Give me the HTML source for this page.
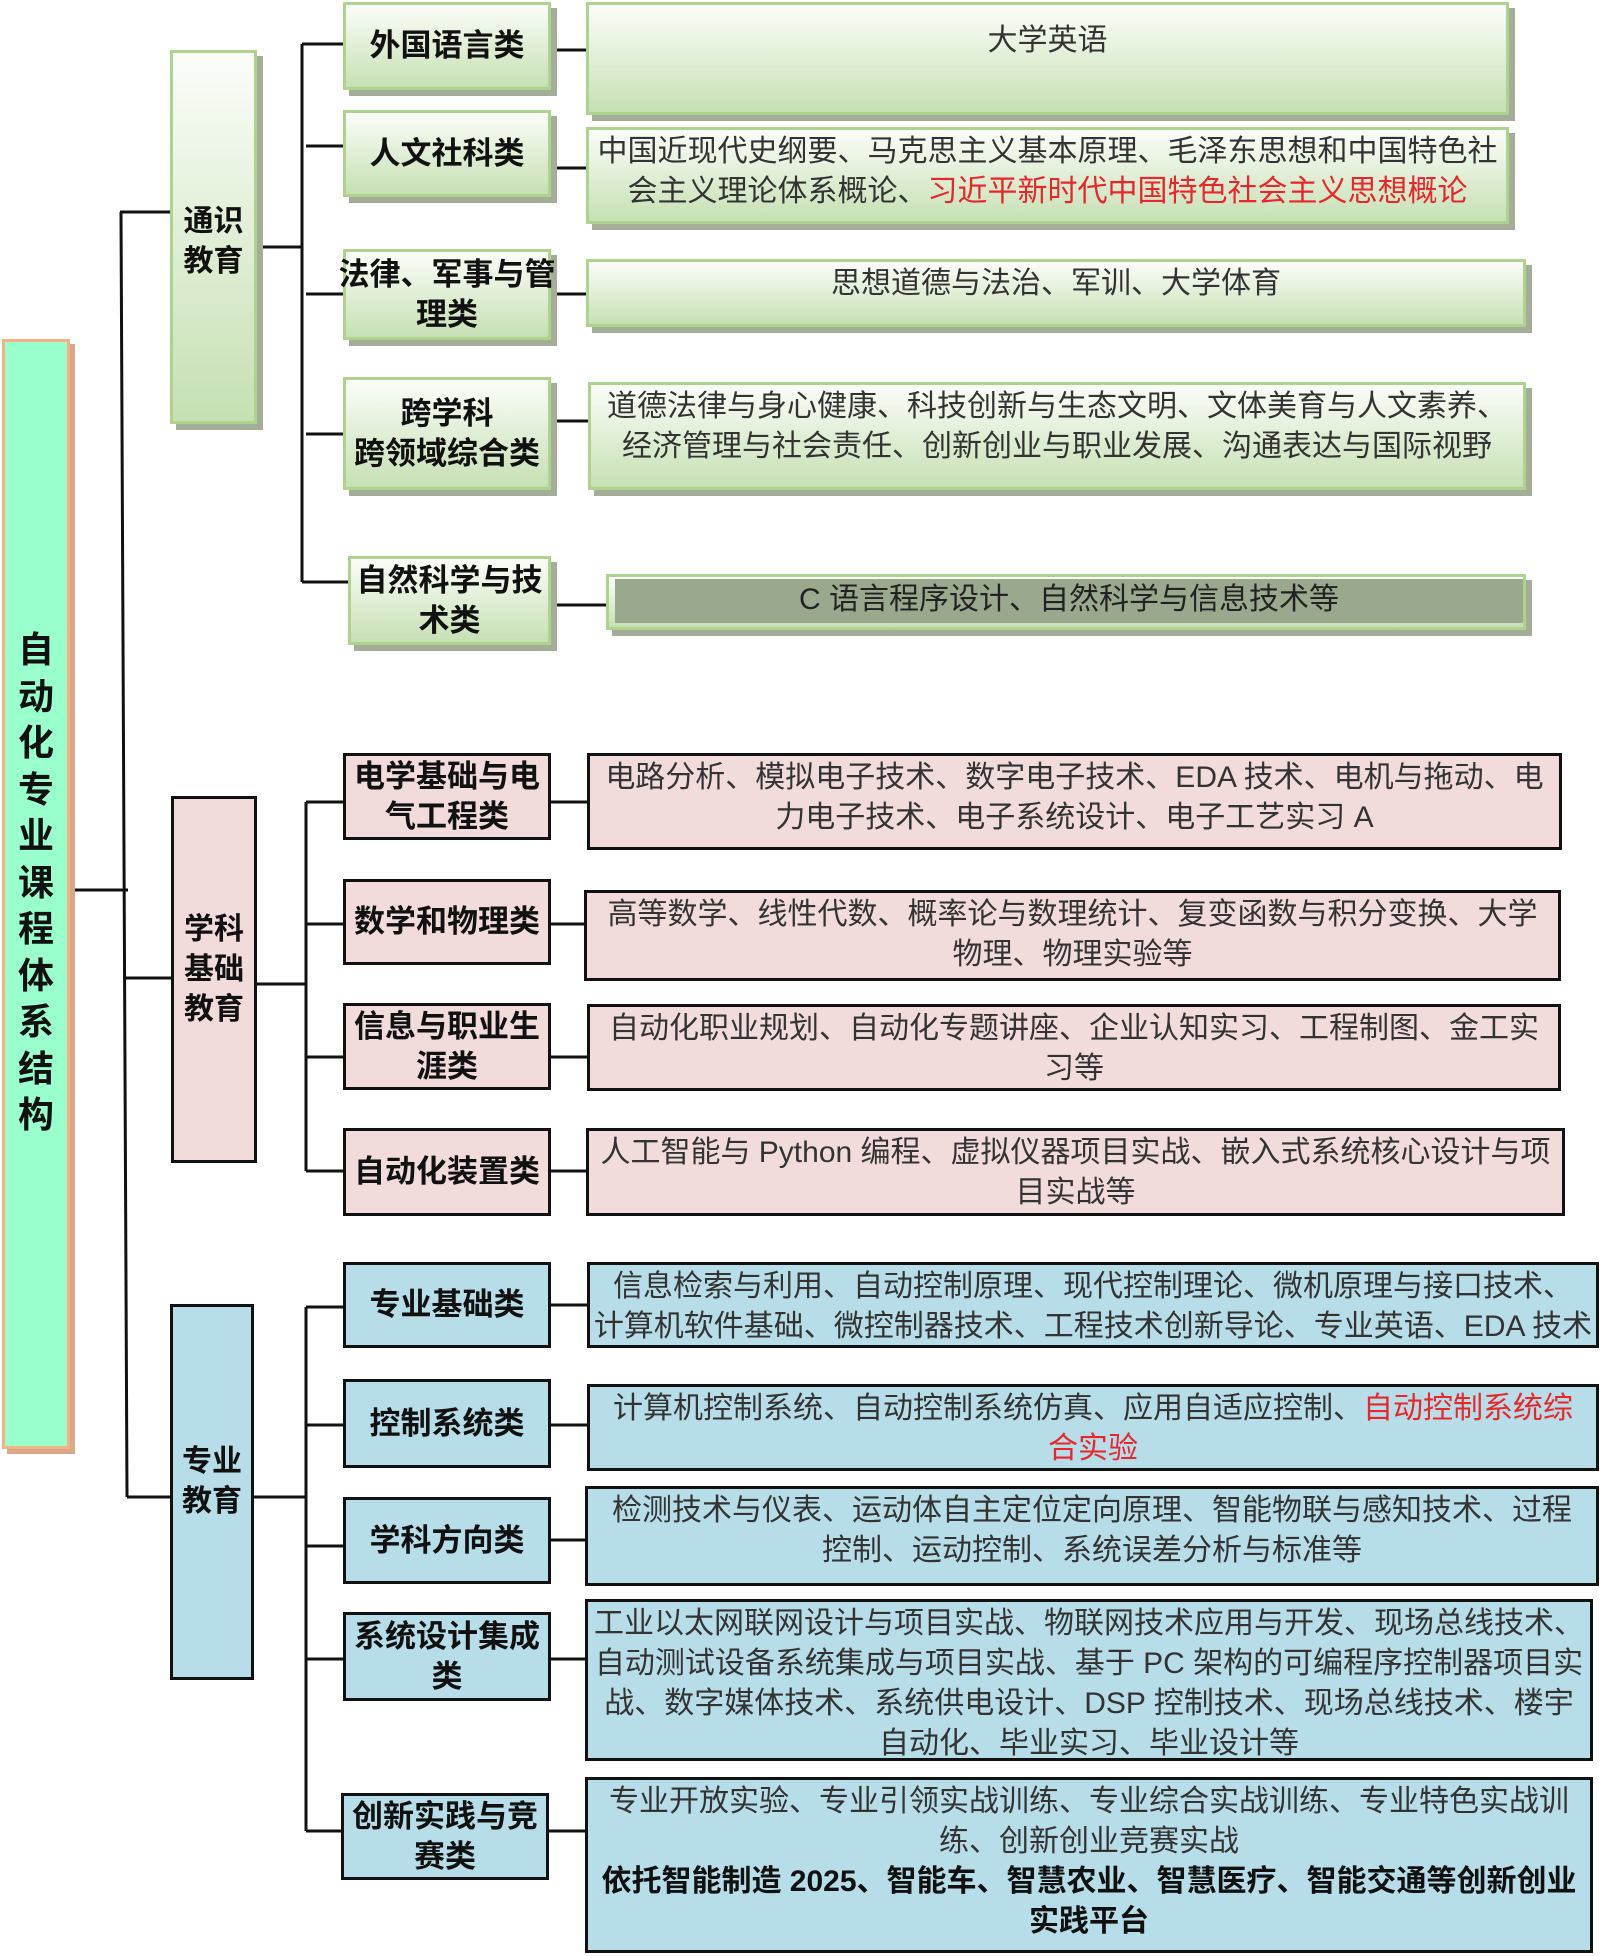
<!DOCTYPE html>
<html><head><meta charset="utf-8"><style>
body{margin:0;width:1600px;height:1956px;background:#fff;position:relative;overflow:hidden;font-family:"Liberation Sans","Noto Sans CJK SC",sans-serif}
.b{position:absolute;box-sizing:border-box;text-align:center}
.g{border:3px solid #aed38f;background:linear-gradient(#fbfdf9,#c6e0b3);box-shadow:6px 6px 0 #a3ad98}
.p{border:3px solid #111;background:#f2dcdb}
.u{border:3px solid #111;background:#b7dde8}
.c{font-weight:bold;font-size:31px;line-height:40px;color:#111;display:flex;align-items:center;justify-content:center;white-space:nowrap}
.d{font-size:30px;line-height:40px;color:#333;white-space:nowrap;padding-top:2px;display:flex;flex-direction:column;align-items:center}
.d>div{white-space:nowrap}
.r{color:#e8262b}
.m{font-weight:bold;font-size:30px;line-height:40px;color:#111;display:flex;align-items:center;justify-content:center}
</style></head><body>
<svg width="1600" height="1956" style="position:absolute;left:0;top:0" stroke="#111" stroke-width="3" fill="none">
<line x1="121" y1="212" x2="127" y2="1497"/>
<line x1="120" y1="212" x2="170" y2="212"/>
<line x1="70" y1="890" x2="128" y2="890"/>
<line x1="126" y1="978" x2="171" y2="978"/>
<line x1="127" y1="1497" x2="170" y2="1497"/>
<line x1="302" y1="44" x2="302" y2="582"/>
<line x1="257" y1="247" x2="302" y2="247"/>
<line x1="302" y1="44" x2="343" y2="44"/>
<line x1="306" y1="146" x2="343" y2="146"/>
<line x1="306" y1="294" x2="343" y2="294"/>
<line x1="306" y1="434" x2="343" y2="434"/>
<line x1="302" y1="582" x2="348" y2="582"/>
<line x1="551" y1="50" x2="586" y2="50"/>
<line x1="551" y1="168" x2="586" y2="168"/>
<line x1="551" y1="294" x2="586" y2="294"/>
<line x1="551" y1="421" x2="588" y2="421"/>
<line x1="551" y1="605" x2="606" y2="605"/>
<line x1="306" y1="802" x2="306" y2="1171"/>
<line x1="257" y1="984" x2="306" y2="984"/>
<line x1="306" y1="802" x2="343" y2="802"/>
<line x1="306" y1="924" x2="343" y2="924"/>
<line x1="306" y1="1057" x2="343" y2="1057"/>
<line x1="306" y1="1171" x2="343" y2="1171"/>
<line x1="551" y1="802" x2="587" y2="802"/>
<line x1="551" y1="924" x2="584" y2="924"/>
<line x1="551" y1="1057" x2="587" y2="1057"/>
<line x1="551" y1="1171" x2="586" y2="1171"/>
<line x1="306" y1="1307" x2="306" y2="1831"/>
<line x1="254" y1="1497" x2="306" y2="1497"/>
<line x1="306" y1="1307" x2="343" y2="1307"/>
<line x1="306" y1="1425" x2="343" y2="1425"/>
<line x1="306" y1="1546" x2="343" y2="1546"/>
<line x1="306" y1="1659" x2="343" y2="1659"/>
<line x1="306" y1="1831" x2="341" y2="1831"/>
<line x1="551" y1="1305" x2="587" y2="1305"/>
<line x1="551" y1="1425" x2="587" y2="1425"/>
<line x1="551" y1="1540" x2="585" y2="1540"/>
<line x1="551" y1="1659" x2="585" y2="1659"/>
<line x1="549" y1="1831" x2="585" y2="1831"/>
</svg>

<div class="b" style="left:2px;top:339px;width:68px;height:1110px;border:3px solid #f4b183;background:#99ffcc;box-shadow:5px 5px 0 #d9a88a;font-size:36px;line-height:46.5px;font-weight:bold;color:#111;padding-top:285px">自<br>动<br>化<br>专<br>业<br>课<br>程<br>体<br>系<br>结<br>构</div>

<div class="b g m" style="left:170px;top:50px;width:87px;height:374px;padding-top:10px">通识<br>教育</div>
<div class="b p m" style="left:171px;top:796px;width:86px;height:367px;padding-bottom:20px">学科<br>基础<br>教育</div>
<div class="b u m" style="left:170px;top:1304px;width:84px;height:376px;padding-bottom:20px">专业<br>教育</div>

<div class="b g c" style="left:343px;top:2px;width:208px;height:88px">外国语言类</div>
<div class="b g c" style="left:343px;top:110px;width:208px;height:87px">人文社科类</div>
<div class="b g c" style="left:343px;top:249px;width:208px;height:91px">法律、军事与管<br>理类</div>
<div class="b g c" style="left:343px;top:377px;width:208px;height:113px">跨学科<br>跨领域综合类</div>
<div class="b g c" style="left:348px;top:556px;width:203px;height:89px">自然科学与技<br>术类</div>

<div class="b g d" style="left:586px;top:2px;width:923px;height:113px;padding-top:16px"><div>大学英语</div></div>
<div class="b g d" style="left:586px;top:127px;width:923px;height:97px"><div>中国近现代史纲要、马克思主义基本原理、毛泽东思想和中国特色社</div><div>会主义理论体系概论、<span class="r">习近平新时代中国特色社会主义思想概论</span></div></div>
<div class="b g d" style="left:586px;top:259px;width:940px;height:68px"><div>思想道德与法治、军训、大学体育</div></div>
<div class="b g d" style="left:588px;top:382px;width:938px;height:108px"><div>道德法律与身心健康、科技创新与生态文明、文体美育与人文素养、</div><div>经济管理与社会责任、创新创业与职业发展、沟通表达与国际视野</div></div>
<div class="b g" style="left:606px;top:574px;width:920px;height:56px;padding:6px 0 0 6px"><div style="background:#9aa88e;height:44px;font-size:30px;line-height:42px;color:#222;margin-top:-4px">C 语言程序设计、自然科学与信息技术等</div></div>

<div class="b p c" style="left:343px;top:753px;width:208px;height:87px">电学基础与电<br>气工程类</div>
<div class="b p c" style="left:343px;top:879px;width:208px;height:86px">数学和物理类</div>
<div class="b p c" style="left:343px;top:1003px;width:208px;height:87px">信息与职业生<br>涯类</div>
<div class="b p c" style="left:343px;top:1128px;width:208px;height:88px">自动化装置类</div>

<div class="b p d" style="left:587px;top:753px;width:975px;height:97px"><div>电路分析、模拟电子技术、数字电子技术、EDA 技术、电机与拖动、电</div><div>力电子技术、电子系统设计、电子工艺实习 A</div></div>
<div class="b p d" style="left:584px;top:890px;width:977px;height:91px"><div>高等数学、线性代数、概率论与数理统计、复变函数与积分变换、大学</div><div>物理、物理实验等</div></div>
<div class="b p d" style="left:587px;top:1004px;width:974px;height:87px"><div>自动化职业规划、自动化专题讲座、企业认知实习、工程制图、金工实</div><div>习等</div></div>
<div class="b p d" style="left:586px;top:1128px;width:979px;height:88px"><div>人工智能与 Python 编程、虚拟仪器项目实战、嵌入式系统核心设计与项</div><div>目实战等</div></div>

<div class="b u c" style="left:343px;top:1262px;width:208px;height:86px">专业基础类</div>
<div class="b u c" style="left:343px;top:1379px;width:208px;height:89px">控制系统类</div>
<div class="b u c" style="left:343px;top:1497px;width:208px;height:87px">学科方向类</div>
<div class="b u c" style="left:343px;top:1612px;width:208px;height:89px">系统设计集成<br>类</div>
<div class="b u c" style="left:341px;top:1793px;width:208px;height:87px">创新实践与竞<br>赛类</div>

<div class="b u d" style="left:587px;top:1262px;width:1012px;height:86px"><div>信息检索与利用、自动控制原理、现代控制理论、微机原理与接口技术、</div><div>计算机软件基础、微控制器技术、工程技术创新导论、专业英语、EDA 技术</div></div>
<div class="b u d" style="left:587px;top:1384px;width:1012px;height:87px"><div>计算机控制系统、自动控制系统仿真、应用自适应控制、<span class="r">自动控制系统综</span></div><div class="r">合实验</div></div>
<div class="b u d" style="left:585px;top:1486px;width:1014px;height:100px"><div>检测技术与仪表、运动体自主定位定向原理、智能物联与感知技术、过程</div><div>控制、运动控制、系统误差分析与标准等</div></div>
<div class="b u d" style="left:585px;top:1599px;width:1008px;height:162px"><div>工业以太网联网设计与项目实战、物联网技术应用与开发、现场总线技术、</div><div>自动测试设备系统集成与项目实战、基于 PC 架构的可编程序控制器项目实</div><div>战、数字媒体技术、系统供电设计、DSP 控制技术、现场总线技术、楼宇</div><div>自动化、毕业实习、毕业设计等</div></div>
<div class="b u d" style="left:585px;top:1777px;width:1008px;height:176px"><div>专业开放实验、专业引领实战训练、专业综合实战训练、专业特色实战训</div><div>练、创新创业竞赛实战</div><div style="font-weight:bold;color:#111">依托智能制造 2025、智能车、智慧农业、智慧医疗、智能交通等创新创业</div><div style="font-weight:bold;color:#111">实践平台</div></div>
</body></html>
